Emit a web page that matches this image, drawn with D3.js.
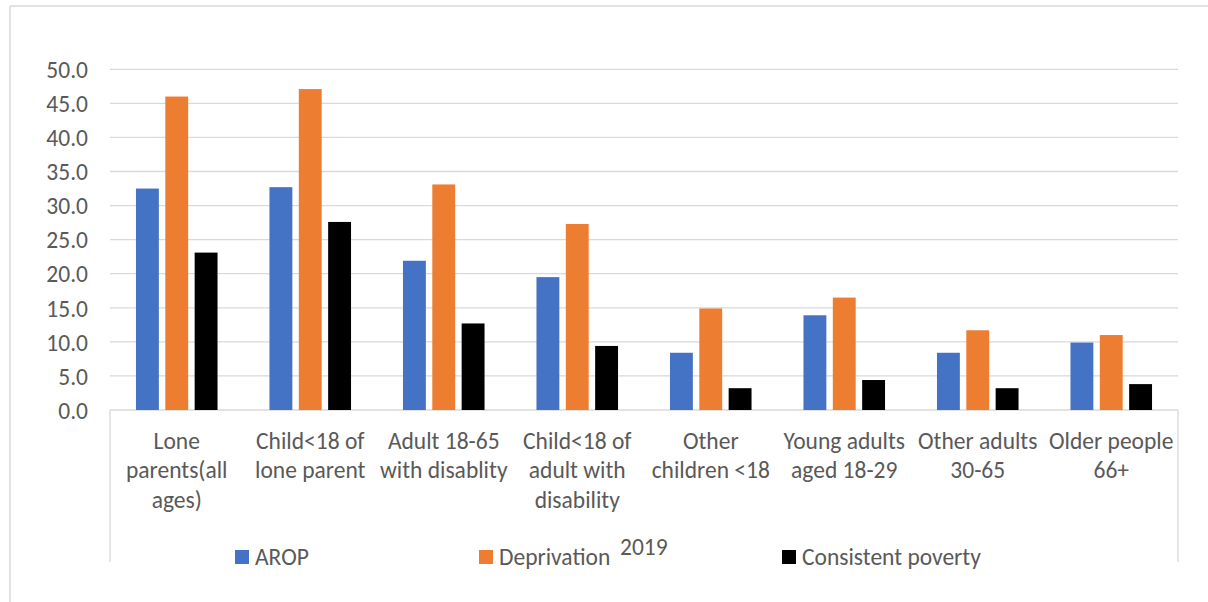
<!DOCTYPE html>
<html><head><meta charset="utf-8">
<script src="https://cdn.jsdelivr.net/npm/d3@7"></script>
<style>
html,body{margin:0;padding:0;background:#fff;}
text{font-family:Carlito,Calibri,Lato,sans-serif;fill:#595959;}
</style></head>
<body><svg id="c" width="1208" height="602"></svg>
<script>
const categories = ["Lone\nparents(all\nages)","Child<18 of\nlone parent","Adult 18-65\nwith disablity","Child<18 of\nadult with\ndisability","Other\nchildren <18","Young adults\naged 18-29","Other adults\n30-65","Older people\n66+"];
const seriesNames = ["AROP","Deprivation","Consistent poverty"];
const arop = [32.5, 32.7, 21.9, 19.5, 8.4, 13.9, 8.4, 9.9];
const deprivation = [46.0, 47.1, 33.1, 27.3, 14.9, 16.5, 11.7, 11.0];
const consistent = [23.1, 27.6, 12.7, 9.4, 3.2, 4.4, 3.2, 3.8];
const yTicks = [0,5,10,15,20,25,30,35,40,45,50];
const axisTitle = "2019";
const colors = ["#4472C4","#ED7D31","#000000"];
const seriesValues = [arop, deprivation, consistent];

const svg = d3.select("#c");
const L = 110, R = 1178, T = 69.3, B = 410;
const FS = 23.5;

// outer border
svg.append("line").attr("x1",10).attr("x2",1208).attr("y1",6).attr("y2",6).attr("stroke","#d9d9d9").attr("stroke-width",1.5);
svg.append("line").attr("x1",10).attr("x2",10).attr("y1",6).attr("y2",602).attr("stroke","#d9d9d9").attr("stroke-width",1.5);

const y = d3.scaleLinear().domain([0,50]).range([B,T]);
const x0 = d3.scaleBand().domain(categories).range([L,R]).paddingInner(0.389).paddingOuter(0.1945);
const x1 = d3.scaleBand().domain(seriesNames).range([0,x0.bandwidth()]).paddingInner(0.22).paddingOuter(0);

// gridlines
svg.append("g").selectAll("line").data(yTicks).join("line")
  .attr("x1",L).attr("x2",R).attr("y1",d=>y(d)).attr("y2",d=>y(d))
  .attr("stroke","#d9d9d9").attr("stroke-width",1.3);

// y axis labels
const yAxis = d3.axisLeft(y).tickValues(yTicks).tickFormat(d3.format(".1f")).tickSize(0).tickPadding(22);
const ga = svg.append("g").attr("transform",`translate(${L},0)`).call(yAxis);
ga.select(".domain").remove();
ga.selectAll("text").attr("font-size",FS).attr("font-family","Carlito,Calibri,Lato,sans-serif").attr("fill","#595959").attr("dy","0.35em");

// bars
categories.forEach((c,i)=>{
  const g = svg.append("g").attr("transform",`translate(${x0(c)},0)`);
  seriesNames.forEach((s,j)=>{
    const v = seriesValues[j][i];
    g.append("rect").attr("x",x1(s)).attr("width",x1.bandwidth())
      .attr("y",y(v)).attr("height",y(0)-y(v)).attr("fill",colors[j]);
  });
});

// category box lines
svg.append("line").attr("x1",L).attr("x2",L).attr("y1",B).attr("y2",562).attr("stroke","#d9d9d9").attr("stroke-width",1.3);
svg.append("line").attr("x1",R).attr("x2",R).attr("y1",B).attr("y2",562).attr("stroke","#d9d9d9").attr("stroke-width",1.3);

// category labels
categories.forEach(c=>{
  const cx = x0(c) + x0.bandwidth()/2;
  const t = svg.append("text").attr("text-anchor","middle").attr("font-size",FS);
  c.split("\n").forEach((ln,k)=>{
    t.append("tspan").attr("x",cx).attr("y",449 + k*29.3).text(ln);
  });
});

// axis title
svg.append("text").attr("x",620).attr("y",555).attr("font-size",FS).text(axisTitle);

// legend
const legX = [235, 479, 782];
seriesNames.forEach((s,j)=>{
  svg.append("rect").attr("x",legX[j]).attr("y",550).attr("width",14).attr("height",14).attr("fill",colors[j]);
  svg.append("text").attr("x",legX[j]+20).attr("y",565).attr("font-size",FS).text(s);
});
</script></body></html>
